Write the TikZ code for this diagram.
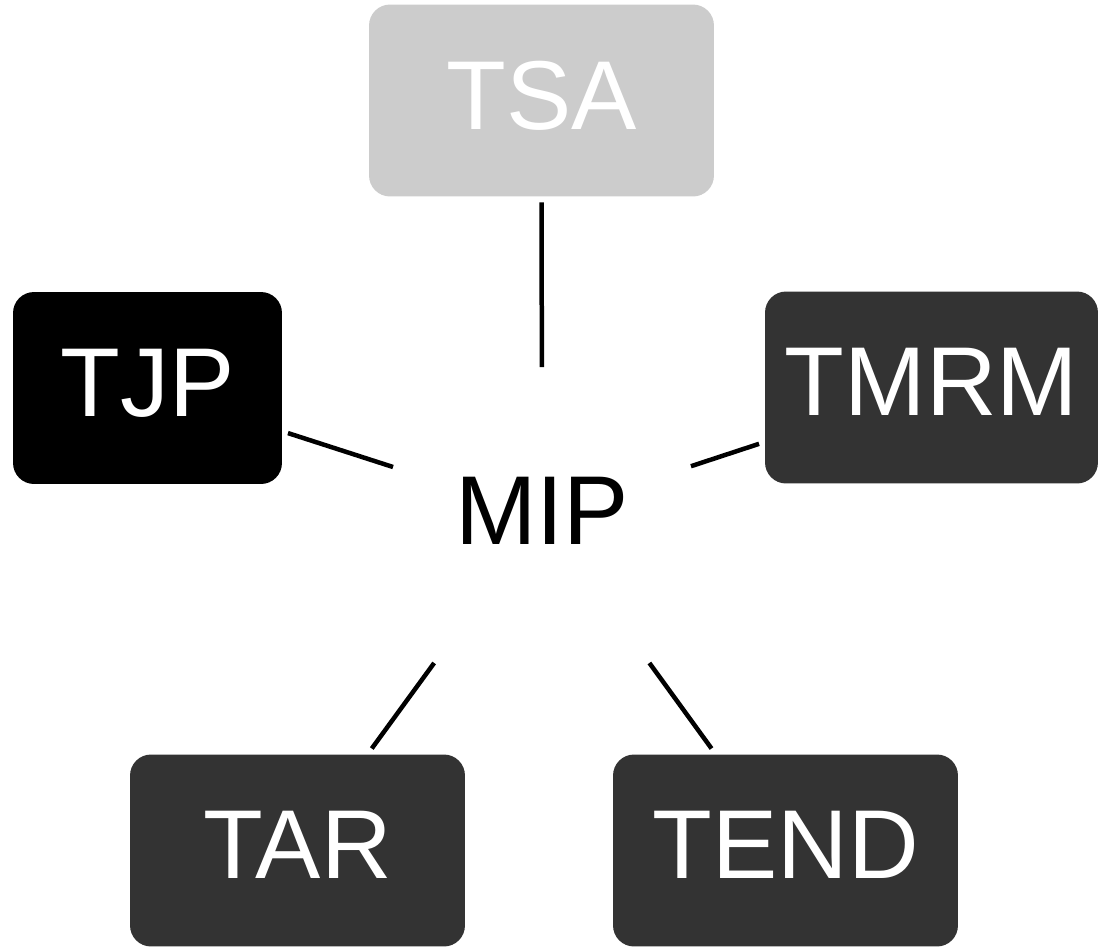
\documentclass[tikz,border=0pt]{standalone}
\usepackage{fontspec}
\setmainfont{Liberation Sans}
\definecolor{lightbox}{HTML}{CCCCCC}
\definecolor{darkbox}{HTML}{333333}
\tikzset{
  big/.style={inner sep=0pt, font=\fontsize{55.7}{60}\selectfont},
  hub/.style={big, minimum width=5.96cm, minimum height=5.92cm, text depth=0.16cm, outer sep=0pt},
  term/.style={big, rectangle, rounded corners=0.42cm, text=white, minimum height=3.84cm, text depth=0.22cm, outer sep=0.12cm},
  link/.style={line width=0.09cm}
}

\begin{document}
\begin{tikzpicture}[x=0.02cm,y=-0.02cm]
  \useasboundingbox (0,0) rectangle (1100,947);
  \node[hub] (mip) at (542,515) {MIP};
  \node[term, fill=lightbox, minimum width=6.9cm] (tsa) at (541.5,100.5) {TSA};
  \node[term, fill=black, minimum width=5.38cm] (tjp) at (147.5,388) {TJP};
  \node[term, fill=darkbox, minimum width=6.66cm] (tmrm) at (931.5,387.5) {TMRM};
  \node[term, fill=darkbox, minimum width=6.7cm] (tar) at (297.5,850.5) {TAR};
  \node[term, fill=darkbox, minimum width=6.9cm] (tend) at (785.5,850.5) {TEND};
  \foreach \t in {tsa,tjp,tmrm,tar,tend}
    \draw[link] (mip) -- (\t);
\end{tikzpicture}
\end{document}
